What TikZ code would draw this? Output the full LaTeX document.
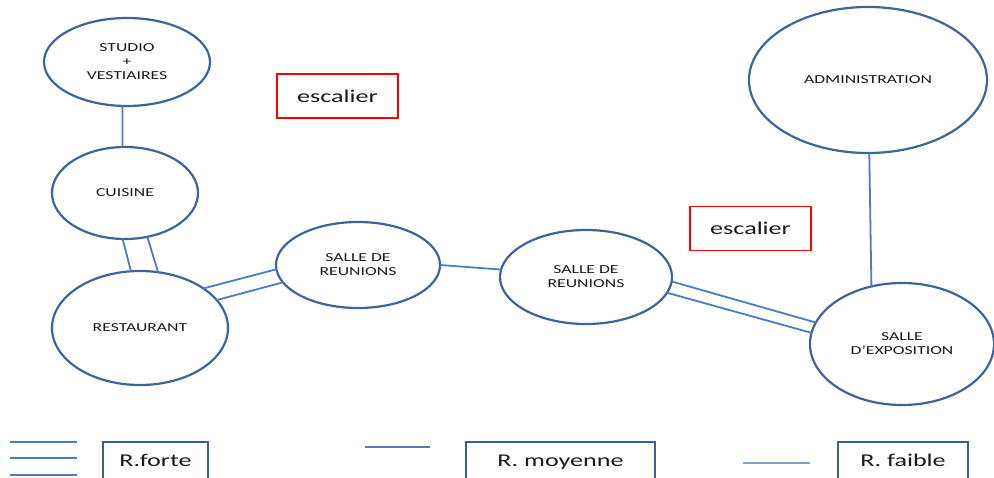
\documentclass[tikz,border=0pt]{standalone}
\usepackage{fontspec}
\setmainfont[FakeStretch=1.45]{Carlito}
\usetikzlibrary{shapes.geometric}
\definecolor{cborder}{HTML}{3E6499}
\definecolor{conn}{HTML}{4A7EBF}
\definecolor{lbox}{HTML}{3B5D8F}
\definecolor{faint}{HTML}{7EA3D3}
\definecolor{txt}{HTML}{1A1A1A}
\begin{document}
\begin{tikzpicture}[x=1pt,y=-1pt,
  room/.style={ellipse, draw=cborder, line width=2.2pt, inner sep=0pt, outer sep=0pt,
    align=center, text=txt, font=\fontsize{12.2}{14}\selectfont},
  link/.style={draw=conn, line width=1.8pt},
  stair/.style={draw=red, line width=1.8pt, minimum width=121pt, minimum height=44pt,
    inner sep=0pt, font=\fontsize{18}{20}\selectfont, text=txt},
  legbox/.style={draw=lbox, line width=2.4pt, inner sep=0pt, minimum height=42pt,
    text height=13pt, text depth=7pt, font=\fontsize{18}{20}\selectfont, text=txt},
  legline/.style={draw=conn, line width=2pt},
]
\useasboundingbox (0,0) rectangle (994,478);

% rooms
\node[room, minimum width=166pt, minimum height=88pt] (S) at (127,62) {STUDIO\\+\\VESTIAIRES};
\node[room, minimum width=146pt, minimum height=92pt] (C) at (125,193) {CUISINE};
\node[room, minimum width=176pt, minimum height=114pt] (R) at (140,328) {RESTAURANT};
\node[room, minimum width=164pt, minimum height=86pt] (M1) at (358,265) {SALLE DE\\REUNIONS};
\node[room, minimum width=172pt, minimum height=94pt] (M2) at (586,277) {SALLE DE\\REUNIONS};
\node[room, minimum width=238pt, minimum height=146pt] (A) at (868,80) {ADMINISTRATION};
\node[room, minimum width=184pt, minimum height=122pt] (E) at (902,344) {SALLE\\D’EXPOSITION};

% stairs
\node[stair] (st1) at (337.5,96) {escalier};
\node[stair] (st2) at (750.5,228.5) {escalier};

% connectors
\draw[link] (S.-96.5) -- (C.93.7);
\draw[link] (C.-93.7) -- (R.99.3);
\draw[link] (C.-63.4) -- (R.72.8);
\draw[link] (R.32.2) -- (M1.183.5);
\draw[link] (R.20.6) -- (M1.193.3);
\draw[link] (M1.-0.7) -- (M2.175.3);
\draw[link] (M2.-3.9) -- (E.166);
\draw[link] (M2.-11.9) -- (E.173.8);
\draw[link] (A.-89) -- (E.118.5);

% legend
\draw[legline] (10,441.5) -- (77,441.5);
\draw[legline] (10,458) -- (77,458);
\draw[legline] (10,474.5) -- (77,474.5);
\node[legbox, minimum width=105pt] (lf) at (155.5,463) {R.forte};
\draw[legline] (365,447) -- (430,447);
\node[legbox, minimum width=189pt] (lm) at (560.5,463) {R. moyenne};
\draw[legline, draw=faint, line width=1.3pt] (743,463) -- (810,463);
\node[legbox, minimum width=130pt] (lw) at (903,463) {R. faible};
\end{tikzpicture}
\end{document}
